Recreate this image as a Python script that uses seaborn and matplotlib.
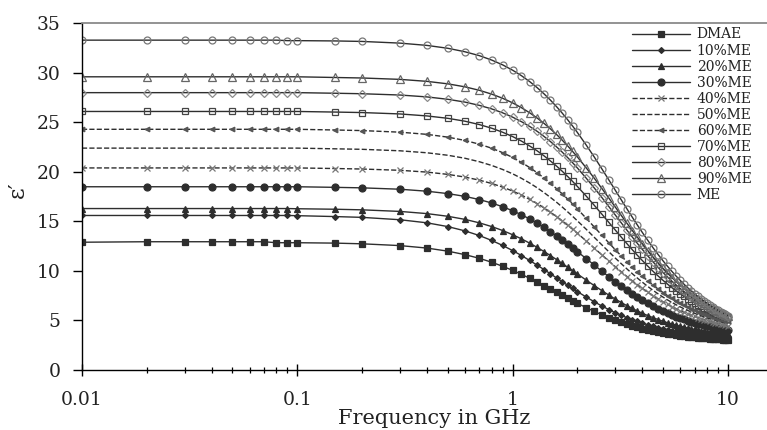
import matplotlib
matplotlib.use("Agg")
import matplotlib.pyplot as plt
import matplotlib.ticker as mticker
import seaborn as sns
import pandas as pd

# ---------------- data ----------------
freq_ghz = [0.01, 0.02, 0.03, 0.04, 0.05, 0.06, 0.07, 0.08, 0.09, 0.1,
            0.15, 0.2, 0.3, 0.4, 0.5, 0.6, 0.7, 0.8, 0.9, 1.0,
            1.1, 1.2, 1.3, 1.4, 1.5, 1.6, 1.7, 1.8, 1.9, 2.0,
            2.2, 2.4, 2.6, 2.8, 3.0, 3.2, 3.4, 3.6, 3.8, 4.0,
            4.25, 4.5, 4.75, 5.0, 5.25, 5.5, 5.75, 6.0, 6.25, 6.5, 6.75, 7.0,
            7.25, 7.5, 7.75, 8.0, 8.25, 8.5, 8.75, 9.0, 9.25, 9.5, 9.75, 10.0]

dmae = [12.9, 12.95, 12.95, 12.95, 12.95, 12.95, 12.95, 12.85, 12.85, 12.85,
        12.81, 12.74, 12.56, 12.31, 12.00, 11.65, 11.28, 10.88, 10.47, 10.06,
        9.66, 9.26, 8.88, 8.52, 8.18, 7.85, 7.54, 7.26, 6.99, 6.74,
        6.29, 5.91, 5.57, 5.29, 5.04, 4.82, 4.63, 4.47, 4.32, 4.19,
        4.05, 3.93, 3.83, 3.74, 3.66, 3.59, 3.53, 3.47, 3.42, 3.38, 3.34, 3.30,
        3.27, 3.24, 3.21, 3.19, 3.17, 3.15, 3.13, 3.11, 3.09, 3.08, 3.06, 3.05]

me10 = [15.6, 15.6, 15.6, 15.6, 15.6, 15.6, 15.6, 15.6, 15.6, 15.58,
        15.49, 15.41, 15.17, 14.86, 14.48, 14.05, 13.58, 13.08, 12.57, 12.06,
        11.56, 11.06, 10.59, 10.14, 9.71, 9.30, 8.92, 8.56, 8.23, 7.92,
        7.36, 6.88, 6.46, 6.10, 5.79, 5.52, 5.28, 5.08, 4.90, 4.74,
        4.56, 4.41, 4.28, 4.17, 4.07, 3.98, 3.91, 3.84, 3.78, 3.72, 3.67, 3.63,
        3.58, 3.55, 3.52, 3.49, 3.46, 3.43, 3.41, 3.39, 3.37, 3.35, 3.33, 3.32]

me20 = [16.3, 16.3, 16.3, 16.3, 16.3, 16.3, 16.3, 16.3, 16.3, 16.28,
        16.23, 16.17, 16.01, 15.79, 15.52, 15.21, 14.86, 14.48, 14.08, 13.66,
        13.24, 12.81, 12.38, 11.96, 11.55, 11.15, 10.76, 10.39, 10.04, 9.70,
        9.07, 8.51, 8.01, 7.56, 7.16, 6.81, 6.49, 6.21, 5.96, 5.74,
        5.49, 5.28, 5.09, 4.92, 4.77, 4.64, 4.52, 4.42, 4.33, 4.24, 4.17, 4.10,
        4.03, 3.98, 3.92, 3.88, 3.83, 3.79, 3.76, 3.72, 3.69, 3.66, 3.63, 3.61]

me30 = [18.5, 18.5, 18.5, 18.5, 18.5, 18.5, 18.5, 18.5, 18.5, 18.5,
        18.44, 18.39, 18.25, 18.05, 17.81, 17.53, 17.21, 16.86, 16.48, 16.08,
        15.67, 15.25, 14.82, 14.39, 13.96, 13.54, 13.13, 12.73, 12.33, 11.95,
        11.24, 10.58, 9.97, 9.42, 8.93, 8.48, 8.07, 7.71, 7.38, 7.08,
        6.74, 6.45, 6.19, 5.95, 5.75, 5.56, 5.40, 5.25, 5.11, 4.99, 4.88, 4.78,
        4.69, 4.61, 4.53, 4.46, 4.40, 4.34, 4.28, 4.23, 4.18, 4.14, 4.10, 4.06]

me40 = [20.4, 20.4, 20.4, 20.4, 20.4, 20.4, 20.4, 20.4, 20.4, 20.4,
        20.34, 20.29, 20.16, 19.98, 19.75, 19.48, 19.17, 18.83, 18.46, 18.07,
        17.66, 17.23, 16.80, 16.37, 15.93, 15.49, 15.06, 14.63, 14.21, 13.81,
        13.02, 12.29, 11.62, 11.00, 10.43, 9.91, 9.43, 9.00, 8.61, 8.25,
        7.84, 7.49, 7.17, 6.88, 6.62, 6.39, 6.19, 6.00, 5.83, 5.68, 5.54, 5.41,
        5.30, 5.19, 5.09, 5.00, 4.92, 4.85, 4.78, 4.71, 4.65, 4.60, 4.54, 4.49]

me50 = [22.4, 22.4, 22.4, 22.4, 22.4, 22.4, 22.4, 22.4, 22.4, 22.4,
        22.33, 22.28, 22.13, 21.93, 21.68, 21.38, 21.03, 20.65, 20.24, 19.81,
        19.35, 18.88, 18.40, 17.91, 17.42, 16.94, 16.46, 15.98, 15.52, 15.06,
        14.20, 13.38, 12.63, 11.94, 11.30, 10.73, 10.20, 9.72, 9.28, 8.88,
        8.43, 8.03, 7.68, 7.36, 7.07, 6.82, 6.59, 6.38, 6.19, 6.02, 5.87, 5.73,
        5.60, 5.48, 5.37, 5.27, 5.18, 5.10, 5.02, 4.95, 4.88, 4.82, 4.76, 4.71]

me60 = [24.3, 24.3, 24.3, 24.3, 24.3, 24.3, 24.3, 24.3, 24.3, 24.3,
        24.23, 24.17, 24.01, 23.79, 23.51, 23.18, 22.80, 22.39, 21.94, 21.46,
        20.96, 20.44, 19.92, 19.38, 18.85, 18.31, 17.79, 17.27, 16.76, 16.26,
        15.31, 14.42, 13.60, 12.84, 12.14, 11.51, 10.93, 10.40, 9.92, 9.49,
        9.00, 8.56, 8.17, 7.82, 7.51, 7.23, 6.98, 6.75, 6.54, 6.36, 6.18, 6.03,
        5.89, 5.76, 5.64, 5.53, 5.43, 5.34, 5.26, 5.18, 5.10, 5.04, 4.97, 4.91]

me70 = [26.1, 26.1, 26.1, 26.1, 26.1, 26.1, 26.1, 26.1, 26.1, 26.1,
        26.04, 25.99, 25.85, 25.65, 25.41, 25.12, 24.78, 24.41, 24.00, 23.57,
        23.11, 22.62, 22.13, 21.62, 21.10, 20.59, 20.07, 19.55, 19.04, 18.53,
        17.55, 16.61, 15.73, 14.90, 14.13, 13.41, 12.75, 12.14, 11.58, 11.07,
        10.48, 9.95, 9.48, 9.05, 8.66, 8.31, 7.99, 7.71, 7.45, 7.21, 6.99, 6.79,
        6.61, 6.44, 6.29, 6.14, 6.01, 5.89, 5.78, 5.68, 5.58, 5.49, 5.41, 5.33]

me80 = [28.0, 28.0, 28.0, 28.0, 28.0, 28.0, 28.0, 28.0, 28.0, 28.0,
        27.94, 27.89, 27.76, 27.57, 27.33, 27.05, 26.72, 26.36, 25.96, 25.53,
        25.07, 24.59, 24.10, 23.58, 23.06, 22.53, 22.00, 21.46, 20.93, 20.40,
        19.36, 18.36, 17.41, 16.50, 15.65, 14.85, 14.11, 13.42, 12.78, 12.19,
        11.51, 10.90, 10.34, 9.84, 9.38, 8.96, 8.59, 8.24, 7.93, 7.64, 7.37, 7.13,
        6.91, 6.71, 6.52, 6.35, 6.18, 6.04, 5.90, 5.77, 5.65, 5.54, 5.44, 5.34]

me90 = [29.6, 29.6, 29.6, 29.6, 29.6, 29.6, 29.6, 29.6, 29.6, 29.6,
        29.53, 29.48, 29.34, 29.14, 28.89, 28.59, 28.24, 27.85, 27.43, 26.97,
        26.48, 25.97, 25.44, 24.90, 24.34, 23.78, 23.21, 22.64, 22.07, 21.51,
        20.40, 19.34, 18.32, 17.36, 16.45, 15.60, 14.81, 14.08, 13.40, 12.77,
        12.05, 11.39, 10.80, 10.26, 9.77, 9.33, 8.93, 8.56, 8.22, 7.92, 7.64, 7.38,
        7.14, 6.93, 6.73, 6.54, 6.37, 6.21, 6.07, 5.93, 5.80, 5.69, 5.57, 5.47]

me100 = [33.3, 33.3, 33.3, 33.3, 33.3, 33.3, 33.3, 33.3, 33.25, 33.25,
         33.22, 33.17, 33.00, 32.77, 32.48, 32.13, 31.74, 31.29, 30.80, 30.27,
         29.71, 29.12, 28.51, 27.88, 27.24, 26.59, 25.94, 25.28, 24.63, 23.98,
         22.70, 21.48, 20.30, 19.19, 18.15, 17.17, 16.26, 15.42, 14.63, 13.91,
         13.08, 12.32, 11.64, 11.02, 10.46, 9.95, 9.48, 9.06, 8.67, 8.32, 8.00, 7.70,
         7.43, 7.18, 6.95, 6.74, 6.54, 6.36, 6.19, 6.03, 5.88, 5.75, 5.62, 5.50]

series_names = ["DMAE", "10%ME", "20%ME", "30%ME", "40%ME", "50%ME",
                "60%ME", "70%ME", "80%ME", "90%ME", "ME"]
series_values = [dmae, me10, me20, me30, me40, me50, me60, me70, me80, me90, me100]

x_tick_values = [0.01, 0.1, 1, 10]
x_tick_labels = ["0.01", "0.1", "1", "10"]
y_tick_values = [0, 5, 10, 15, 20, 25, 30, 35]
x_label = "Frequency in GHz"
y_label = "ε′"

# ---------------- styles ----------------
LINE = "#2e2e2e"
styles = {
    "DMAE":  dict(marker="s", ms=4.6, mfc=LINE, mec=LINE, ls="-"),
    "10%ME": dict(marker="D", ms=3.0, mfc=LINE, mec=LINE, ls="-"),
    "20%ME": dict(marker="^", ms=5.0, mfc=LINE, mec=LINE, ls="-"),
    "30%ME": dict(marker="o", ms=5.0, mfc=LINE, mec=LINE, ls="-"),
    "40%ME": dict(marker="x", ms=4.2, mfc="#777777", mec="#777777", ls="--"),
    "50%ME": dict(marker="", ms=0, mfc=LINE, mec=LINE, ls="--"),
    "60%ME": dict(marker="<", ms=3.3, mfc="#555555", mec="#555555", ls="--"),
    "70%ME": dict(marker="s", ms=5.0, mfc="none", mec="#444444", ls="-"),
    "80%ME": dict(marker="D", ms=3.6, mfc="none", mec="#8a8a8a", ls="-"),
    "90%ME": dict(marker="^", ms=5.2, mfc="none", mec="#666666", ls="-"),
    "ME":    dict(marker="o", ms=5.0, mfc="none", mec="#777777", ls="-"),
}

sns.set_theme(style="white")
plt.rcParams["font.family"] = ["DejaVu Serif", "DejaVu Sans"]

fig = plt.figure(figsize=(7.67, 4.30), dpi=100)
ax = fig.add_axes([0.1069, 0.1395, 0.8931, 0.8063])

for name, vals in zip(series_names, series_values):
    st = styles[name]
    df = pd.DataFrame({"f": freq_ghz, "e": vals})
    sns.lineplot(data=df, x="f", y="e", ax=ax, color=LINE, lw=1.0,
                 linestyle=st["ls"], marker=st["marker"] if st["marker"] else None,
                 markersize=st["ms"], markerfacecolor=st["mfc"],
                 markeredgecolor=st["mec"], markeredgewidth=0.9,
                 label=name, sort=False, estimator=None,
                 dashes=(4, 2.5) if st["ls"] == "--" else "")

ax.set_xscale("log")
ax.set_xlim(0.01, 15.2)
ax.set_ylim(0, 35)
ax.xaxis.set_major_locator(mticker.FixedLocator(x_tick_values))
ax.xaxis.set_major_formatter(mticker.FixedFormatter(x_tick_labels))
ax.xaxis.set_minor_locator(mticker.LogLocator(base=10, subs=[2, 3, 4, 5, 6, 7, 8, 9]))
ax.xaxis.set_minor_formatter(mticker.NullFormatter())
ax.yaxis.set_major_locator(mticker.FixedLocator(y_tick_values))
ax.set_yticklabels([str(v) for v in y_tick_values])

ax.tick_params(axis="x", which="major", direction="inout", length=8.5, width=1.0,
               color="black", pad=11, labelsize=13.5, labelcolor="#222222", bottom=True)
ax.tick_params(axis="x", which="minor", direction="inout", length=4.5, width=0.9,
               color="black", bottom=True)
ax.tick_params(axis="y", which="major", direction="out", length=6.5, width=1.0,
               color="black", pad=9, labelsize=13.5, labelcolor="#222222", left=True)

for side in ["left", "bottom"]:
    ax.spines[side].set_color("black")
    ax.spines[side].set_linewidth(1.0)
ax.spines["top"].set_color("#8a8a8a")
ax.spines["top"].set_linewidth(1.3)
ax.spines["right"].set_visible(False)
ax.grid(False)

ax.set_xlabel(x_label, fontsize=15, color="#222222")
ax.xaxis.set_label_coords(0.514, -0.112)
ax.set_ylabel(y_label, fontsize=16, color="#222222")
ax.yaxis.set_label_coords(-0.078, 0.52)

leg = ax.legend(loc="upper left", bbox_to_anchor=(0.803, 0.988), frameon=False,
                fontsize=10, labelspacing=0.15, handlelength=4.2, handletextpad=0.45,
                borderpad=0.0, borderaxespad=0.0, numpoints=1)
for t in leg.get_texts():
    t.set_color("#222222")

fig.savefig("out.png", dpi=100)
